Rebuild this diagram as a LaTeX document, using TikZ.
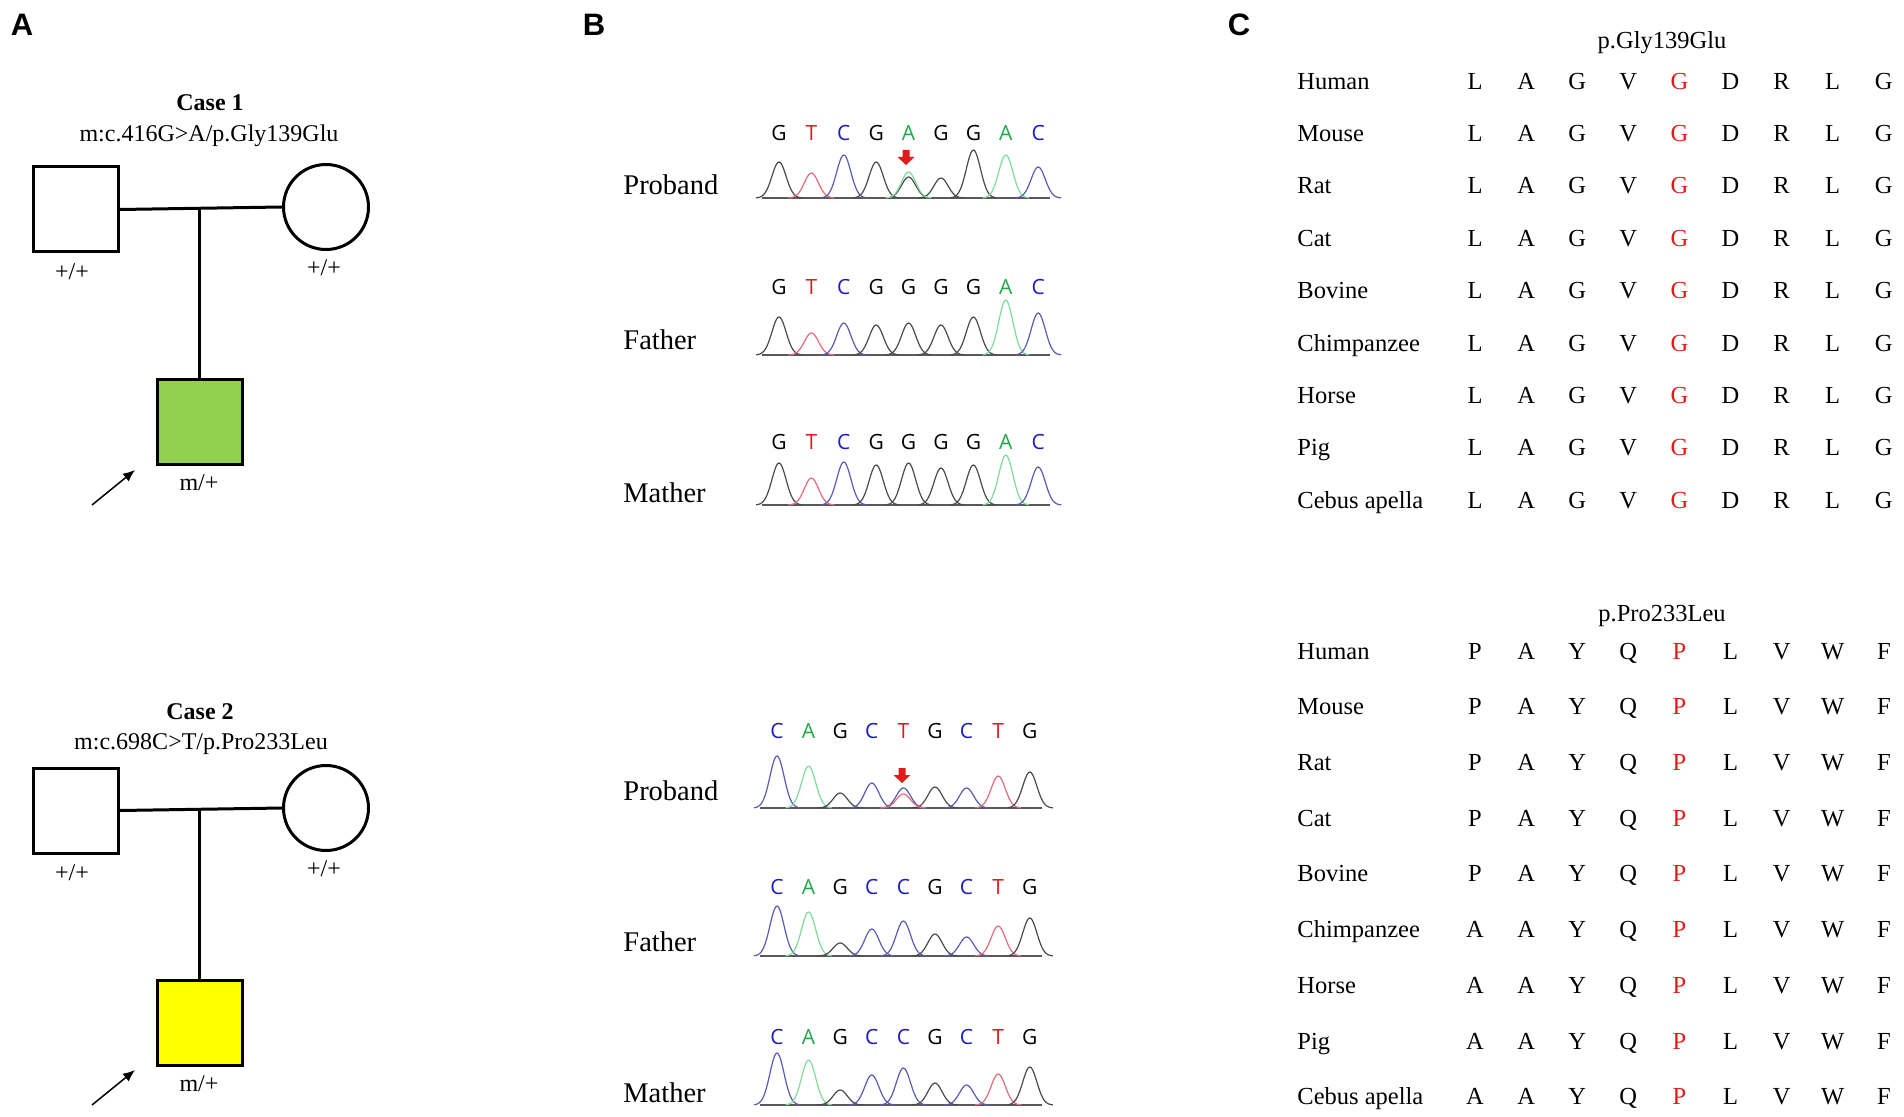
\documentclass[tikz,border=0pt]{standalone}
\usepackage{fontspec}
\setmainfont{Liberation Serif}
\newfontfamily\seqfont{Open Sans}
\newfontfamily\panelfont{Liberation Sans}
\usetikzlibrary{arrows.meta}

\definecolor{affgreen}{HTML}{92D050}
\definecolor{affyellow}{HTML}{FFFF00}
\definecolor{baseA}{HTML}{20A848}
\definecolor{baseC}{HTML}{1C1CC8}
\definecolor{baseT}{HTML}{E01820}
\definecolor{baseG}{HTML}{000000}
\definecolor{trA}{HTML}{7FDB9A}
\definecolor{trC}{HTML}{5A5AB4}
\definecolor{trT}{HTML}{E36B7A}
\definecolor{trG}{HTML}{4A4A4A}
\definecolor{mutred}{HTML}{E01B1B}

\tikzset{
  panel/.style={font=\panelfont\bfseries\fontsize{15.5}{18}\selectfont, text height=11.1pt, text depth=0pt, inner sep=0pt},
  male/.style={draw, line width=1.5pt, minimum size=42.5pt, inner sep=0pt},
  female/.style={male, circle},
  pedline/.style={line width=1.5pt},
  pedtext/.style={font=\fontsize{12}{14}\selectfont, text height=7.9pt, text depth=0pt, inner sep=0pt},
  casetitle/.style={pedtext, font=\bfseries\fontsize{12}{14}\selectfont},
  probarrow/.style={line width=0.75pt, -{Latex[length=6pt,width=5pt]}},
  member/.style={font=\fontsize{14.25}{17}\selectfont, text height=9.4pt, text depth=0pt, inner sep=0pt, anchor=west},
  seqletter/.style={font=\seqfont\fontsize{10.5}{12}\selectfont, text height=7.5pt, text depth=0pt, inner sep=0pt},
  chrombase/.style={draw=black!65, line width=0.8pt},
  chromline/.style={line width=0.6pt},
  species/.style={font=\fontsize{12.25}{14}\selectfont, text height=8.1pt, text depth=0pt, inner sep=0pt, anchor=west},
  residue/.style={species, anchor=center},
}

% one trace: first peak x, spacing, baseline y, heights/colours
\newcommand{\chromtrace}[4]{%
  \draw[chrombase] ({#1-17},#3) -- ({#1+8*#2+12},#3);
  \foreach \ph/\pc [count=\i] in {#4}
    \draw[chromline,\pc] plot[domain=-23:23,samples=35] ({#1+#2*(\i-1)+\x},{#3-\ph*exp(-(\x/10)^2)});
}
% called bases above a trace
\newcommand{\seqrow}[5]{%
  \foreach \b/\c [count=\i] in {#5}
    \node[seqletter,text=\c] (#1\i) at ({#2+#3*(\i-1)},#4) {\b};
}
% red marker over the variant
\newcommand{\mutmark}[2]{%
  \fill[mutred] (#1,#2) ++(-3.5,0) -- ++(7,0) -- ++(0,7) -- ++(5,0) -- ++(-8.5,8) -- ++(-8.5,-8) -- ++(5,0) -- cycle;
}

\begin{document}
\begin{tikzpicture}[x=0.5pt,y=-0.5pt]
\useasboundingbox (0,0) rectangle (1904,1117);

\node[panel] (pA) at (22,24) {A};
\node[panel] (pB) at (594,24) {B};
\node[panel] (pC) at (1239,24) {C};

% A: pedigrees
\node[casetitle] (t1) at (210,103) {Case 1};
\node[pedtext] (v1) at (209,134) {m:c.416G>A/p.Gly139Glu};
\node[male] (fa1) at (76,209.5) {};
\node[female] (mo1) at (326,207) {};
\node[male, fill=affgreen] (pb1) at (199.5,422) {};
\draw[pedline] (fa1.east) -- (mo1.west);
\draw[pedline] (fa1.east -| pb1.north) -- (pb1.north);
\node[pedtext] (gf1) at (72,272) {+/+};
\node[pedtext] (gm1) at (324,268) {+/+};
\node[pedtext] (gp1) at (199,483) {m/+};
\coordinate (ar1s) at (92,505);
\coordinate (ar1e) at (135,470);
\draw[probarrow] (ar1s) -- (ar1e);

\node[casetitle] (t2) at (200,712) {Case 2};
\node[pedtext] (v2) at (201,742) {m:c.698C>T/p.Pro233Leu};
\node[male] (fa2) at (76,810.5) {};
\node[female] (mo2) at (326,808) {};
\node[male, fill=affyellow] (pb2) at (199.5,1023) {};
\draw[pedline] (fa2.east) -- (mo2.west);
\draw[pedline] (fa2.east -| pb2.north) -- (pb2.north);
\node[pedtext] (gf2) at (72,873) {+/+};
\node[pedtext] (gm2) at (324,869) {+/+};
\node[pedtext] (gp2) at (199,1084) {m/+};
\coordinate (ar2s) at (92,1105);
\coordinate (ar2e) at (135,1070);
\draw[probarrow] (ar2s) -- (ar2e);

% B: sequencing, case 1
\node[member] (m1p) at (623,185) {Proband};
\node[member] (m1f) at (623,340) {Father};
\node[member] (m1m) at (623,493) {Mather};
\seqrow{s1p}{779}{32.4}{133}{G/baseG,T/baseT,C/baseC,G/baseG,A/baseA,G/baseG,G/baseG,A/baseA,C/baseC}
\seqrow{s1f}{779}{32.4}{287}{G/baseG,T/baseT,C/baseC,G/baseG,G/baseG,G/baseG,G/baseG,A/baseA,C/baseC}
\seqrow{s1m}{779}{32.4}{442}{G/baseG,T/baseT,C/baseC,G/baseG,G/baseG,G/baseG,G/baseG,A/baseA,C/baseC}
\chromtrace{779}{32.4}{198}{36/trG,25/trT,43/trC,36/trG,21/trG,20/trG,48/trG,43/trA,31/trC}
\draw[chromline,trA] plot[domain=-23:23,samples=35] ({908.6+\x},{198-26*exp(-(\x/10)^2)});
\chromtrace{779}{32.4}{355}{38/trG,22/trT,32/trC,30/trG,32/trG,30/trG,38/trG,55/trA,42/trC}
\chromtrace{779}{32.4}{505}{42/trG,27/trT,43/trC,40/trG,42/trG,37/trG,40/trG,50/trA,38/trC}
\mutmark{906}{150}

% B: sequencing, case 2
\node[member] (m2p) at (623,791) {Proband};
\node[member] (m2f) at (623,942) {Father};
\node[member] (m2m) at (623,1093) {Mather};
\seqrow{s2p}{777}{31.6}{731}{C/baseC,A/baseA,G/baseG,C/baseC,T/baseT,G/baseG,C/baseC,T/baseT,G/baseG}
\seqrow{s2f}{777}{31.6}{887}{C/baseC,A/baseA,G/baseG,C/baseC,C/baseC,G/baseG,C/baseC,T/baseT,G/baseG}
\seqrow{s2m}{777}{31.6}{1037}{C/baseC,A/baseA,G/baseG,C/baseC,C/baseC,G/baseG,C/baseC,T/baseT,G/baseG}
\chromtrace{777}{31.6}{808}{52/trC,42/trA,15/trG,25/trC,20/trC,21/trG,20/trC,32/trT,36/trG}
\draw[chromline,trT] plot[domain=-23:23,samples=35] ({903.4+\x},{808-14*exp(-(\x/10)^2)});
\chromtrace{777}{31.6}{956}{50/trC,44/trA,13/trG,27/trC,35/trC,22/trG,19/trC,30/trT,38/trG}
\chromtrace{777}{31.6}{1105}{52/trC,45/trA,15/trG,30/trC,37/trC,22/trG,20/trC,31/trT,38/trG}
\mutmark{902}{768}

% C: conservation
\node[residue] (h1) at (1662,40) {p.Gly139Glu};
\foreach \sp [count=\r] in {Human,Mouse,Rat,Cat,Bovine,Chimpanzee,Horse,Pig,Cebus apella} {
  \node[species] (a\r) at (1297,{81+52.4*(\r-1)}) {\sp};
  \foreach \aa/\ac [count=\c] in {L/black,A/black,G/black,V/black,G/mutred,D/black,R/black,L/black,G/black}
    \node[residue,text=\ac] (a\r-\c) at ({1475+51.1*(\c-1)},{81+52.4*(\r-1)}) {\aa};
}

\node[residue] (h2) at (1662,613) {p.Pro233Leu};
\foreach \sp/\first [count=\r] in {Human/P,Mouse/P,Rat/P,Cat/P,Bovine/P,Chimpanzee/A,Horse/A,Pig/A,Cebus apella/A} {
  \node[species] (b\r) at (1297,{651+55.7*(\r-1)}) {\sp};
  \foreach \aa/\ac [count=\c] in {\first/black,A/black,Y/black,Q/black,P/mutred,L/black,V/black,W/black,F/black}
    \node[residue,text=\ac] (b\r-\c) at ({1475+51.1*(\c-1)},{651+55.7*(\r-1)}) {\aa};
}
\end{tikzpicture}
\end{document}
